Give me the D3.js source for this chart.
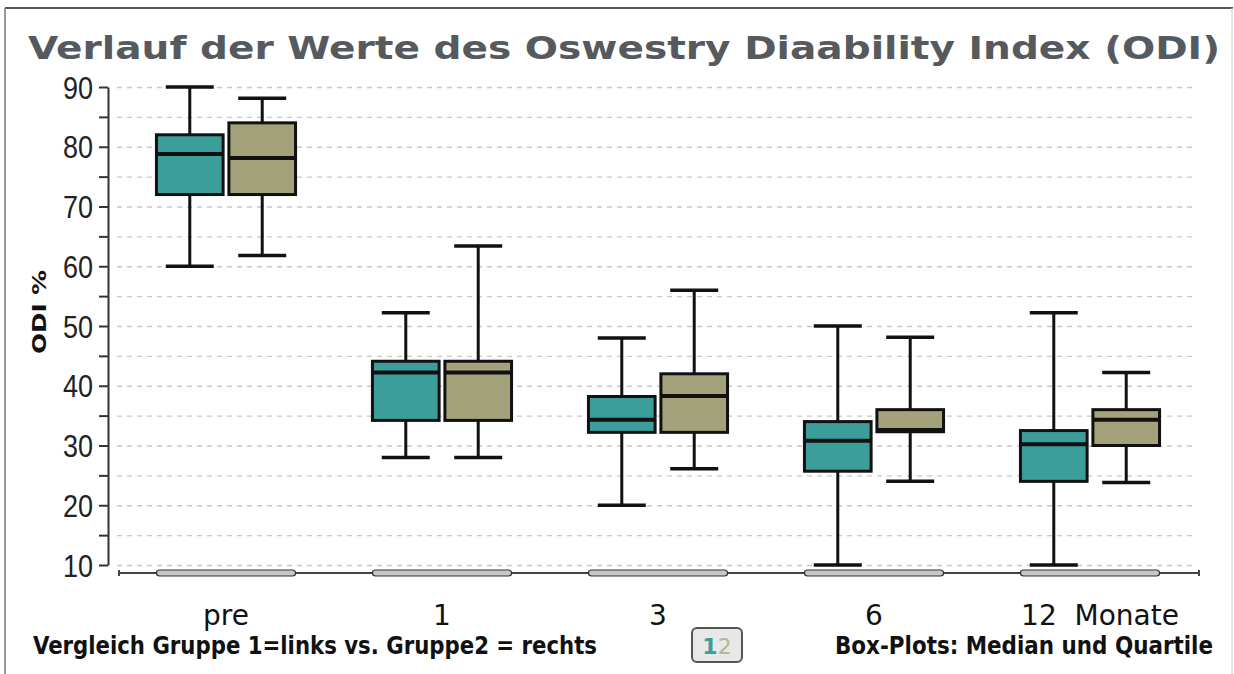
<!DOCTYPE html>
<html>
<head>
<meta charset="utf-8">
<script src="https://cdn.jsdelivr.net/npm/d3@7"></script>
<style>
  html, body { margin: 0; padding: 0; background: #fff; }
  svg { display: block; }
</style>
</head>
<body>
<svg id="chart" width="1234" height="674"></svg>
<script>
// ---------- data ----------
const categories = ["pre", "1", "3", "6", "12"];
const groups = ["Gruppe 1", "Gruppe 2"];

const g1Min    = [60,   28,   20,   10,   10];
const g1Q1     = [72,   34.2, 32.2, 25.7, 24];
const g1Median = [78.8, 42.2, 34.3, 30.8, 30.2];
const g1Q3     = [82,   44.1, 38.2, 34,   32.5];
const g1Max    = [90,   52.2, 48,   50,   52.2];

const g2Min    = [61.8, 28,   26.1, 24,   23.8];
const g2Q1     = [72,   34.2, 32.2, 32.3, 30];
const g2Median = [78.1, 42.2, 38.3, 32.6, 34.3];
const g2Q3     = [84,   44.1, 42,   36,   36];
const g2Max    = [88.1, 63.4, 56,   48.1, 42.2];

const yMajorTicks = [10, 20, 30, 40, 50, 60, 70, 80, 90];
const yMinorTicks = [15, 25, 35, 45, 55, 65, 75, 85];
const gridTicks = [10, 15, 20, 25, 30, 35, 40, 45, 50, 55, 60, 65, 70, 75, 80, 85, 90];

const titleText = "Verlauf der Werte des Oswestry Diaability Index (ODI)";
const yTitle = "ODI %";
const noteLeft = "Vergleich Gruppe 1=links vs. Gruppe2 = rechts";
const noteRight = "Box-Plots: Median und Quartile";
const xLabelMap = {"12": "12\u00a0\u00a0Monate"};

// ---------- build ----------
const colors = {"Gruppe 1": "#3b9e9b", "Gruppe 2": "#a3a27a"};
const boxes = [];
categories.forEach((c, i) => {
  boxes.push({cat: c, grp: groups[0], min: g1Min[i], q1: g1Q1[i], med: g1Median[i], q3: g1Q3[i], max: g1Max[i]});
  boxes.push({cat: c, grp: groups[1], min: g2Min[i], q1: g2Q1[i], med: g2Median[i], q3: g2Q3[i], max: g2Max[i]});
});

const svg = d3.select("#chart");

// frame
svg.append("line").attr("x1", 5).attr("x2", 1233).attr("y1", 8).attr("y2", 8)
  .attr("stroke", "#555").attr("stroke-width", 2);
svg.append("line").attr("x1", 5).attr("x2", 5).attr("y1", 8).attr("y2", 674)
  .attr("stroke", "#777").attr("stroke-width", 1.5);
svg.append("line").attr("x1", 1232).attr("x2", 1232).attr("y1", 8).attr("y2", 674)
  .attr("stroke", "#ccc").attr("stroke-width", 1);

// title
svg.append("text")
  .attr("x", 28).attr("y", 59)
  .attr("font-family", "'DejaVu Sans', Verdana, sans-serif")
  .attr("font-weight", "bold")
  .attr("font-size", 32)
  .attr("fill", "#565a5e")
  .attr("textLength", 1192)
  .attr("lengthAdjust", "spacingAndGlyphs")
  .text(titleText);

// scales
const y = d3.scaleLinear().domain([10, 90]).range([565, 87]);
const x = d3.scaleBand().domain(categories).range([118, 1198])
  .paddingInner(0.356).paddingOuter(0.178);
const xSub = d3.scaleBand().domain(groups).range([0, x.bandwidth()]).paddingInner(0.08);

// gridlines
const grid = svg.append("g").attr("transform", "translate(117,0)")
  .call(d3.axisRight(y).tickValues(gridTicks).tickSize(1080).tickFormat(""));
grid.select(".domain").remove();
grid.selectAll(".tick line").attr("stroke", "#c8c8c8").attr("stroke-width", 1.3)
  .attr("stroke-dasharray", "5,5");

// y axis
const yAx = svg.append("g").attr("transform", "translate(108,0)")
  .call(d3.axisLeft(y).tickValues(yMajorTicks).tickSize(9).tickSizeOuter(0).tickPadding(6));
yAx.select(".domain").attr("stroke", "#333").attr("stroke-width", 2);
yAx.selectAll(".tick line").attr("stroke", "#333").attr("stroke-width", 2);
yAx.selectAll(".tick text")
  .attr("font-family", "'Liberation Sans Narrow', 'Arial Narrow', 'Liberation Sans', sans-serif")
  .attr("font-size", 31).attr("fill", "#222").attr("dy", "0.36em")
  .attr("textLength", 30).attr("lengthAdjust", "spacingAndGlyphs");
const yMin = svg.append("g").attr("transform", "translate(108,0)")
  .call(d3.axisLeft(y).tickValues(yMinorTicks).tickSize(9).tickFormat(""));
yMin.select(".domain").remove();
yMin.selectAll(".tick line").attr("stroke", "#333").attr("stroke-width", 2);

// y title
svg.append("text")
  .attr("transform", "translate(46,312) rotate(-90)")
  .attr("text-anchor", "middle")
  .attr("font-family", "'DejaVu Sans', Verdana, sans-serif")
  .attr("font-weight", "bold").attr("font-size", 20).attr("fill", "#111")
  .attr("textLength", 84).attr("lengthAdjust", "spacingAndGlyphs")
  .text(yTitle);

// x axis
const xAx = svg.append("g").attr("transform", "translate(0,573)")
  .call(d3.axisBottom(x).tickSize(0).tickSizeOuter(0).tickPadding(32)
    .tickFormat(d => xLabelMap[d] || d));
xAx.select(".domain").attr("stroke", "#444").attr("stroke-width", 2)
  .attr("d", "M119,-3V3V0H1199V-3V3");
xAx.selectAll(".tick text")
  .attr("font-family", "'DejaVu Sans', Tahoma, sans-serif")
  .attr("font-size", 28).attr("fill", "#111")
  .attr("dx", d => xLabelMap[d] ? 10 : 0);
// pills on x axis
svg.append("g").selectAll("rect").data(categories).join("rect")
  .attr("x", d => x(d)).attr("width", x.bandwidth())
  .attr("y", 570).attr("height", 6).attr("rx", 3)
  .attr("fill", "#c6c6c6").attr("stroke", "#333").attr("stroke-width", 1.2);

// boxes
const bw = xSub.bandwidth();
const capW = bw * 0.72;
const bg = svg.append("g").selectAll("g").data(boxes).join("g")
  .attr("transform", d => `translate(${x(d.cat) + xSub(d.grp)},0)`);
bg.append("line")
  .attr("x1", bw / 2).attr("x2", bw / 2)
  .attr("y1", d => y(d.max)).attr("y2", d => y(d.min))
  .attr("stroke", "#111").attr("stroke-width", 3);
bg.append("line")
  .attr("x1", (bw - capW) / 2).attr("x2", (bw + capW) / 2)
  .attr("y1", d => y(d.max)).attr("y2", d => y(d.max))
  .attr("stroke", "#111").attr("stroke-width", 3.5);
bg.append("line")
  .attr("x1", (bw - capW) / 2).attr("x2", (bw + capW) / 2)
  .attr("y1", d => y(d.min)).attr("y2", d => y(d.min))
  .attr("stroke", "#111").attr("stroke-width", 3.5);
bg.append("rect")
  .attr("x", 0).attr("width", bw)
  .attr("y", d => y(d.q3)).attr("height", d => y(d.q1) - y(d.q3))
  .attr("fill", d => colors[d.grp]).attr("stroke", "#111").attr("stroke-width", 3);
bg.append("line")
  .attr("x1", 0).attr("x2", bw)
  .attr("y1", d => y(d.med)).attr("y2", d => y(d.med))
  .attr("stroke", "#111").attr("stroke-width", 4);

// bottom notes
const noteFont = "'DejaVu Sans Condensed', 'DejaVu Sans', Tahoma, sans-serif";
svg.append("text").attr("x", 33).attr("y", 654)
  .attr("font-family", noteFont).attr("font-weight", "bold").attr("font-size", 24)
  .attr("fill", "#111").attr("textLength", 564).attr("lengthAdjust", "spacingAndGlyphs")
  .text(noteLeft);
svg.append("text").attr("x", 835).attr("y", 654)
  .attr("font-family", noteFont).attr("font-weight", "bold").attr("font-size", 24)
  .attr("fill", "#111").attr("textLength", 378).attr("lengthAdjust", "spacingAndGlyphs")
  .text(noteRight);

// legend box
const lg = svg.append("g").attr("transform", "translate(692,628)");
lg.append("rect").attr("width", 50).attr("height", 34).attr("rx", 5)
  .attr("fill", "#e8e8e8").attr("stroke", "#555").attr("stroke-width", 2);
const lt = lg.append("text").attr("x", 25).attr("y", 26).attr("text-anchor", "middle")
  .attr("font-family", "'DejaVu Sans', Tahoma, sans-serif").attr("font-size", 22);
lt.append("tspan").attr("fill", colors[groups[0]]).attr("font-weight", "bold").text("1");
lt.append("tspan").attr("fill", "#b6b594").text("2");
</script>
</body>
</html>
